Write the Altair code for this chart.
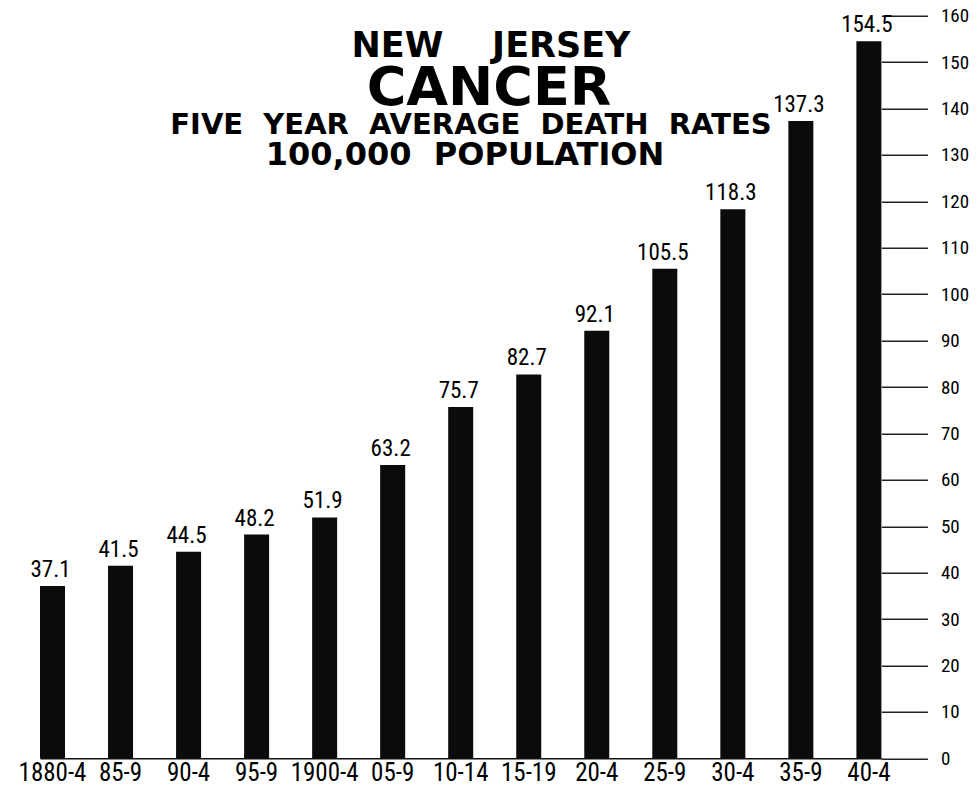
import altair as alt
import pandas as pd

# ---- data ----
periods = ["1880-4", "85-9", "90-4", "95-9", "1900-4", "05-9", "10-14",
           "15-19", "20-4", "25-9", "30-4", "35-9", "40-4"]
rates = [37.1, 41.5, 44.5, 48.2, 51.9, 63.2, 75.7, 82.7, 92.1, 105.5, 118.3, 137.3, 154.5]
y_ticks = list(range(0, 161, 10))
SP = "\u00a0"
title_lines = ["NEW" + SP * 4 + "JERSEY", "CANCER",
               (SP * 2).join(["FIVE", "YEAR", "AVERAGE", "DEATH", "RATES"]),
               "100,000" + SP * 2 + "POPULATION"]

df = pd.DataFrame({"period": periods, "rate": rates})

NARROW = "Liberation Sans Narrow, Roboto Condensed, Liberation Sans, sans-serif"
BOLD = "DejaVu Sans"

W, H = 841.4, 742.6
x0, y0 = 40.0, 15.7  # plot origin in page pixels
SVG_W, SVG_H = 963.0, 778.0

x_enc = alt.X(
    "period:N", sort=periods,
    scale=alt.Scale(paddingInner=0.6325, paddingOuter=0),
    axis=alt.Axis(title=None, labelAngle=0, ticks=False, domain=True,
                  domainColor="#111", domainWidth=1.5, labelFont=NARROW,
                  labelFontSize=25, labelPadding=2, labelColor="black"),
)
y_enc = alt.Y(
    "rate:Q",
    scale=alt.Scale(domain=[0, 160], nice=False, zero=True),
    axis=alt.Axis(title=None, orient="right", values=y_ticks, domain=False, grid=False,
                  tickSize=46, tickWidth=1.5, tickColor="#222", labelPadding=13,
                  labelFont=NARROW, labelFontSize=19, labelColor="black",
                  labelFlush=False, labelOverlap=False, labelBaseline="middle"),
)

base = alt.Chart(df)
bars = base.mark_bar(color="#0b0b0b").encode(x=x_enc, y=y_enc)
labels = base.mark_text(baseline="bottom", dy=-4, dx=-2, fontSize=23, font=NARROW,
                        color="black").encode(
    x=alt.X("period:N", sort=periods), y="rate:Q", text=alt.Text("rate:Q", format=".1f"))

title_specs = [
    (491, 57, 35),
    (489, 105, 54),
    (471, 134, 29),
    (465, 165, 32),
]
title_layers = []
for line, (cx, by, fs) in zip(title_lines, title_specs):
    title_layers.append(
        alt.Chart(pd.DataFrame({"t": [line]})).mark_text(
            font=BOLD, fontWeight="bold", fontSize=fs, align="center",
            baseline="alphabetic", color="black"
        ).encode(x=alt.value(cx - x0), y=alt.value(by - y0), text="t:N")
    )

chart = alt.layer(bars, labels, *title_layers).properties(
    width=W, height=H,
    padding={"left": x0 - 8, "top": y0 - 8,
             "right": SVG_W - (x0 - 8) - W,
             "bottom": SVG_H - (y0 - 8) - H},
    autosize=alt.AutoSizeParams(type="none"),
).configure_view(stroke=None)

chart.save("out.html", embed_options={"renderer": "svg", "actions": False})
